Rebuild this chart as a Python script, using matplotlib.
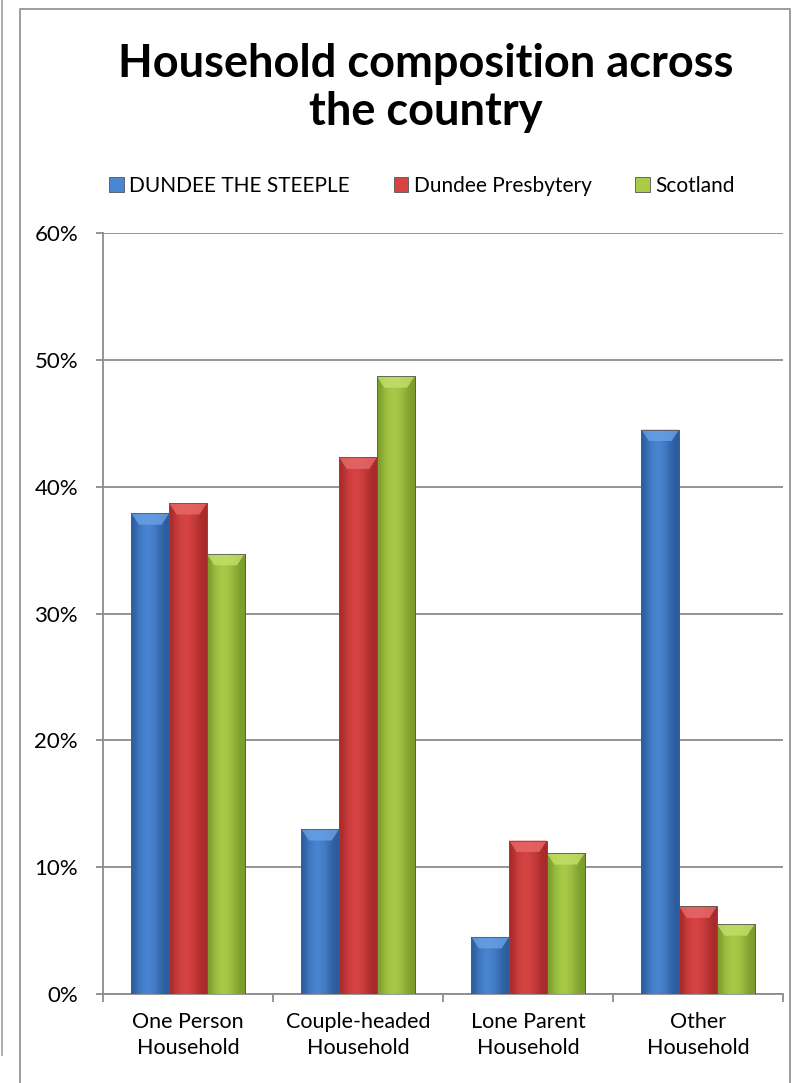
import numpy as np
import matplotlib
matplotlib.use("Agg")
import matplotlib.pyplot as plt
from matplotlib.patches import Rectangle, Polygon
from matplotlib.lines import Line2D
from matplotlib.colors import LinearSegmentedColormap

plt.rcParams['font.family'] = ['Lato', 'DejaVu Sans']

categories = ["One Person\nHousehold", "Couple-headed\nHousehold",
              "Lone Parent\nHousehold", "Other\nHousehold"]
series_names = ["DUNDEE THE STEEPLE", "Dundee Presbytery", "Scotland"]
steeple = [0.379, 0.130, 0.045, 0.445]
presbytery = [0.387, 0.423, 0.121, 0.069]
scotland = [0.347, 0.487, 0.111, 0.055]
y_ticks = [0, 0.1, 0.2, 0.3, 0.4, 0.5, 0.6]

# (dark edge, light centre) for each series
shades = [("#2c5c9e", "#4a86d2"), ("#a82a2a", "#d84444"), ("#7c9c2c", "#a8cc48")]
bevel = ["#6aa2e6", "#e86a6a", "#c4e06a"]

fig = plt.figure(figsize=(7.93, 10.83), dpi=100)
W, H = 793, 1083

# outer page line and chart frame
fig.add_artist(Line2D([1.5 / W, 1.5 / W], [1, 1 - 1055 / H], color="#a0a0a0", lw=1.2))
fig.add_artist(Rectangle((20 / W, -0.01), (790 - 20) / W, 1 - 9 / H + 0.01,
                         fill=False, ec="#8c8c8c", lw=1.2))

ax = fig.add_axes([103 / W, 1 - 994 / H, (783 - 103) / W, (994 - 233) / H])

n = len(categories)
x = np.arange(n)
width = 0.222
data = [steeple, presbytery, scotland]
grad = np.array([[0.0, 0.55, 0.85, 1.0, 0.85, 0.6, 0.2, 0.0]])

for i, vals in enumerate(data):
    cmap = LinearSegmentedColormap.from_list("c%d" % i, [shades[i][0], shades[i][1]])
    bars = ax.bar(x + (i - 1) * width, vals, width, color=shades[i][1],
                  edgecolor="#555555", linewidth=0.6, zorder=3,
                  label=series_names[i])
    for b in bars:
        x0, y0 = b.get_x(), b.get_y()
        bw, bh = b.get_width(), b.get_height()
        im = ax.imshow(grad, cmap=cmap, aspect="auto", zorder=3.5,
                       extent=(x0, x0 + bw, y0, y0 + bh), interpolation="bicubic")
        im.set_clip_path(b)
        cap = min(0.009, bh * 0.5)
        ax.add_patch(Polygon([(x0, y0 + bh), (x0 + bw, y0 + bh),
                              (x0 + bw * 0.8, y0 + bh - cap), (x0 + bw * 0.2, y0 + bh - cap)],
                             closed=True, fc=bevel[i], ec="none", alpha=0.8, zorder=3.8))
        ax.add_patch(Rectangle((x0, y0), bw, bh, fill=False, ec="#5a5a5a", lw=0.6, zorder=4))

ax.set_xlim(-0.5, n - 0.5)
ax.set_ylim(0, 0.6)
ax.set_yticks(y_ticks)
ax.set_yticklabels(["%d%%" % round(t * 100) for t in y_ticks])
ax.grid(axis="y", color="#8c8c8c", lw=1.3, zorder=0)
ax.set_axisbelow(True)

ax.set_xticks(np.arange(n + 1) - 0.5)
ax.set_xticklabels([""] * (n + 1))
ax.set_xticks(x, minor=True)
ax.set_xticklabels(categories, minor=True, fontsize=15.5, linespacing=1.4)
ax.tick_params(axis="x", which="major", length=6, width=1.3, color="#8c8c8c")
ax.tick_params(axis="x", which="minor", length=0, pad=13)
ax.tick_params(axis="y", length=5, width=1.3, color="#8c8c8c", labelsize=16, pad=13)

for s in ["top", "right"]:
    ax.spines[s].set_visible(False)
for s in ["left", "bottom"]:
    ax.spines[s].set_color("#8c8c8c")
    ax.spines[s].set_linewidth(1.3)

fig.text(426 / W, 1 - 88 / H, "Household composition across\nthe country",
         ha="center", va="center", fontsize=32.5, fontweight="bold", linespacing=1.2)

fig.legend(loc="center", bbox_to_anchor=(422 / W, 1 - 186 / H), ncol=3, frameon=False,
           fontsize=15, handlelength=0.7, handleheight=0.7, handletextpad=0.25,
           columnspacing=2.1)

fig.savefig("out.png", dpi=100, facecolor="white")
